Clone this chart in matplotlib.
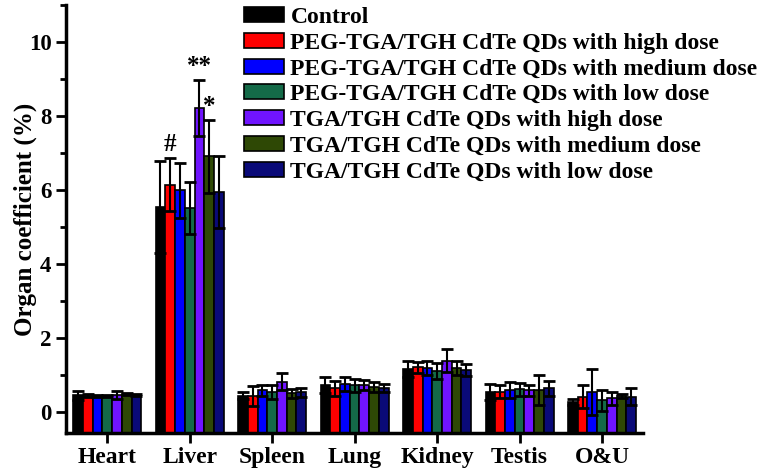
import numpy as np
import matplotlib.pyplot as plt
from matplotlib.patches import Rectangle
from matplotlib.ticker import MultipleLocator

plt.rcParams['font.family'] = ['Liberation Serif', 'DejaVu Serif']
plt.rcParams['font.weight'] = 'bold'

organs = ['Heart', 'Liver', 'Spleen', 'Lung', 'Kidney', 'Testis', 'O&U']
groups = ['Control',
          'PEG-TGA/TGH CdTe QDs with high dose',
          'PEG-TGA/TGH CdTe QDs with medium dose',
          'PEG-TGA/TGH CdTe QDs with low dose',
          'TGA/TGH CdTe QDs with high dose',
          'TGA/TGH CdTe QDs with medium dose',
          'TGA/TGH CdTe QDs with low dose']
colors = ['#000000', '#ff0000', '#0000ff', '#146a48', '#7014ff', '#2e4805', '#0a0a78']

# mean organ coefficient (%) per group, order follows organs
control   = [0.46, 5.55, 0.45, 0.75, 1.17, 0.55, 0.27]
peg_high  = [0.45, 6.15, 0.45, 0.65, 1.22, 0.56, 0.43]
peg_med   = [0.45, 6.00, 0.60, 0.77, 1.20, 0.60, 0.55]
peg_low   = [0.44, 5.52, 0.55, 0.73, 1.12, 0.62, 0.33]
tga_high  = [0.47, 8.22, 0.83, 0.74, 1.40, 0.60, 0.38]
tga_med   = [0.49, 6.92, 0.52, 0.69, 1.20, 0.60, 0.45]
tga_low   = [0.48, 5.95, 0.55, 0.66, 1.15, 0.65, 0.43]

# standard deviations
control_sd  = [0.12, 1.25, 0.10, 0.22, 0.22, 0.22, 0.08]
peg_high_sd = [0.04, 0.72, 0.27, 0.20, 0.15, 0.18, 0.30]
peg_med_sd  = [0.03, 0.75, 0.15, 0.20, 0.20, 0.22, 0.63]
peg_low_sd  = [0.03, 0.70, 0.20, 0.18, 0.22, 0.17, 0.28]
tga_high_sd = [0.10, 0.76, 0.23, 0.14, 0.32, 0.15, 0.17]
tga_med_sd  = [0.03, 0.98, 0.12, 0.14, 0.18, 0.40, 0.05]
tga_low_sd  = [0.03, 0.98, 0.12, 0.11, 0.17, 0.20, 0.22]

means = [control, peg_high, peg_med, peg_low, tga_high, tga_med, tga_low]
sds = [control_sd, peg_high_sd, peg_med_sd, peg_low_sd, tga_high_sd, tga_med_sd, tga_low_sd]

# significance marks on the liver group: (group index, label)
marks = [(1, '#'), (4, '**'), (5, '*')]

fig = plt.figure(figsize=(7.76, 4.73), dpi=100)
ax = fig.add_axes([0.085, 0.085, 0.744, 0.904])

ymin = -0.55
x = np.arange(len(organs))
w = 0.118
for i in range(len(groups)):
    xi = x + (i - 3) * w
    m = np.array(means[i])
    ax.bar(xi, m - ymin, bottom=ymin, width=w, color=colors[i],
           edgecolor='black', linewidth=1.2, zorder=2)
    ax.errorbar(xi, m, yerr=sds[i], fmt='none', ecolor='black',
                elinewidth=1.5, capsize=4.3, capthick=2, zorder=3)

for i, lab in marks:
    top = means[i][1] + sds[i][1]
    ax.text(1 + (i - 3) * w, top + 0.05, lab, ha='center', va='bottom',
            fontsize=18, fontweight='bold')

ax.set_xlim(-0.5, 6.5)
ax.set_ylim(ymin, 11)
ax.set_xticks(x)
ax.set_xticklabels(organs, fontsize=17, fontweight='bold')
ax.yaxis.set_major_locator(MultipleLocator(2))
ax.yaxis.set_minor_locator(MultipleLocator(1))
ax.set_yticks(np.arange(0, 11, 2))
ax.tick_params(axis='y', labelsize=16.5, width=2, length=7, direction='out')
ax.tick_params(axis='y', which='minor', width=2, length=4)
ax.tick_params(axis='x', width=2, length=7, direction='out')
for lab in ax.get_yticklabels():
    lab.set_fontweight('bold')
ax.set_ylabel('Organ coefficient (%)', fontsize=18, fontweight='bold')
ax.yaxis.set_label_coords(-0.05, 0.5)

ax.spines['top'].set_visible(False)
ax.spines['right'].set_visible(False)
ax.spines['left'].set_linewidth(2.5)
ax.spines['bottom'].set_linewidth(2.5)

handles = [Rectangle((0, 0), 1, 1, facecolor=c, edgecolor='black', linewidth=1.2)
           for c in colors]
fig.legend(handles, groups, loc='upper left', bbox_to_anchor=(0.308, 0.995),
           frameon=False, prop={'size': 17, 'weight': 'bold'},
           handlelength=1.7, handleheight=0.6, handletextpad=0.28,
           labelspacing=0.2, borderaxespad=0.0, borderpad=0.2)

fig.savefig('out.png', dpi=100)
